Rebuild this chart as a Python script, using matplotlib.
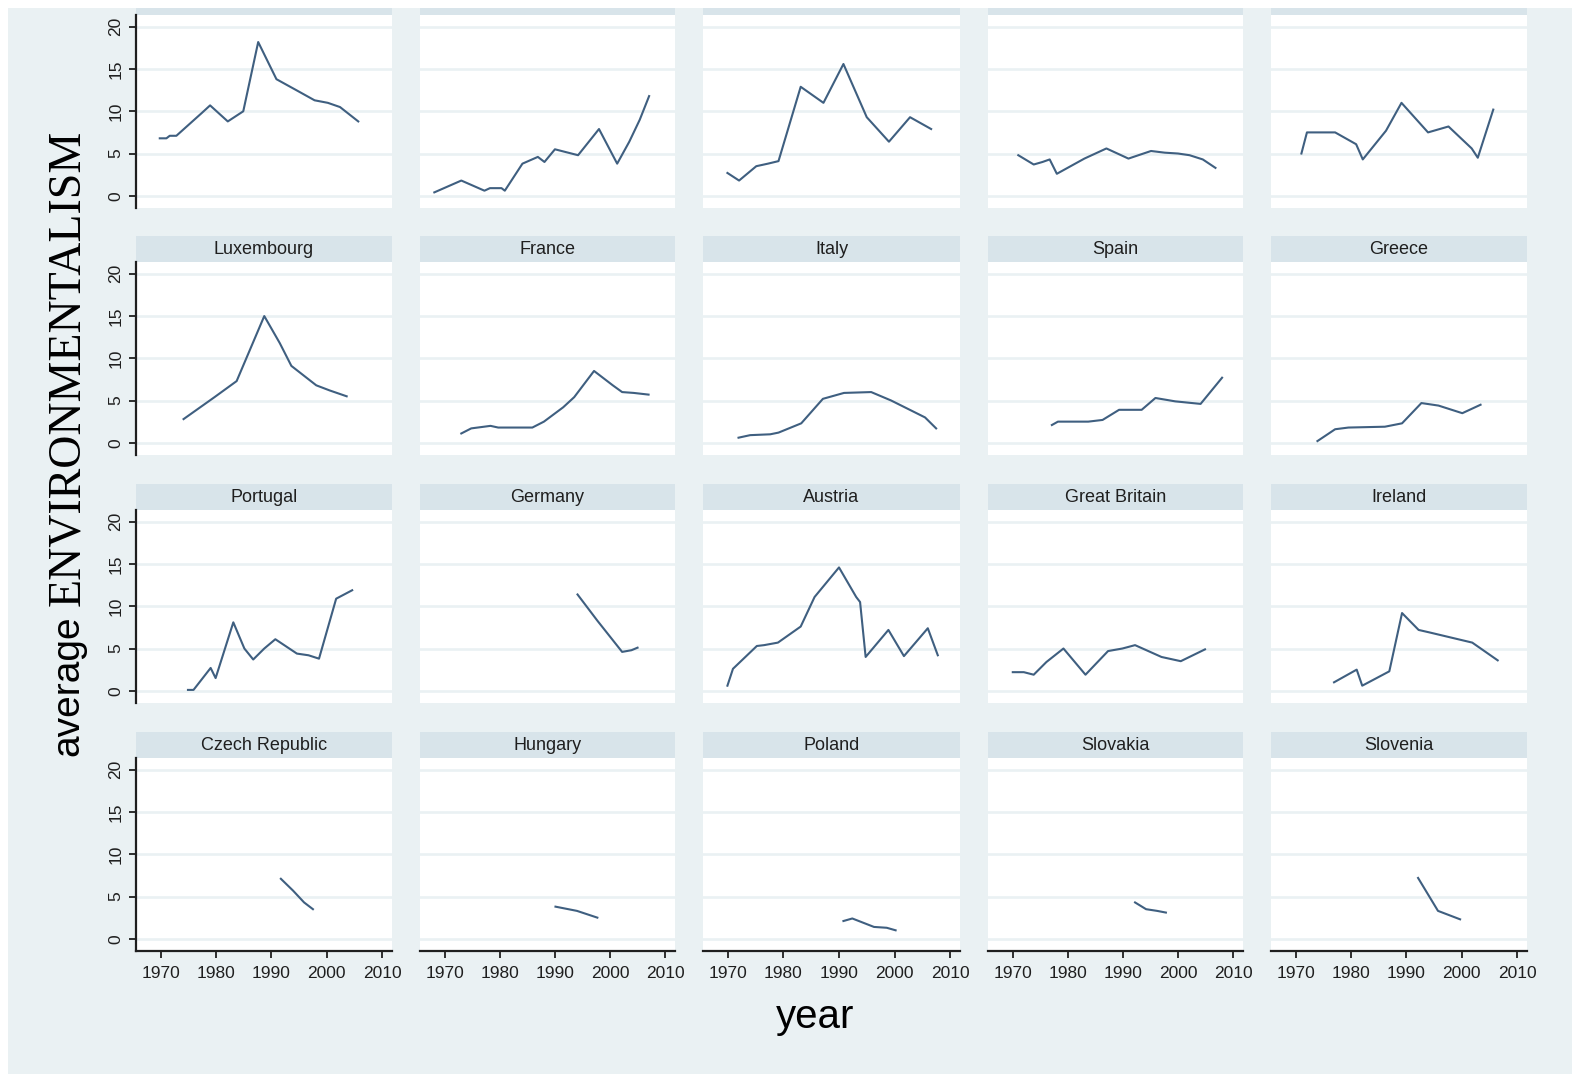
import matplotlib
matplotlib.use("Agg")
import matplotlib.pyplot as plt
from matplotlib.patches import Rectangle

# ---------------- data ----------------
# top row (panel titles cut off in the reference)
p1_years = [1969.8, 1971.0, 1971.6, 1972.8, 1977.4, 1978.9, 1982.1, 1984.9, 1987.6, 1990.9, 1994.5, 1997.8, 2000.2, 2002.4, 2005.7]
p1_vals = [6.8, 6.8, 7.1, 7.1, 9.8, 10.7, 8.8, 10.0, 18.2, 13.8, 12.5, 11.3, 11.0, 10.5, 8.8]
p2_years = [1968.1, 1973.0, 1977.2, 1978.2, 1980.3, 1980.9, 1984.1, 1986.9, 1988.1, 1990.0, 1994.2, 1998.0, 2001.3, 2003.5, 2005.4, 2007.1]
p2_vals = [0.4, 1.8, 0.6, 0.9, 0.9, 0.6, 3.8, 4.6, 4.0, 5.5, 4.8, 7.9, 3.8, 6.4, 9.0, 11.8]
p3_years = [1969.9, 1972.0, 1975.1, 1977.2, 1979.1, 1983.1, 1987.2, 1990.8, 1995.0, 1999.0, 2002.8, 2006.6]
p3_vals = [2.7, 1.8, 3.5, 3.8, 4.1, 12.9, 11.0, 15.6, 9.3, 6.4, 9.3, 7.9]
p4_years = [1971.0, 1973.8, 1975.4, 1976.7, 1978.0, 1983.0, 1987.0, 1991.0, 1995.1, 1997.6, 2000.0, 2002.1, 2004.5, 2006.8]
p4_vals = [4.8, 3.7, 4.0, 4.3, 2.6, 4.4, 5.6, 4.4, 5.3, 5.1, 5.0, 4.8, 4.3, 3.3]
p5_years = [1971.0, 1972.0, 1977.1, 1980.9, 1982.1, 1986.3, 1989.1, 1993.9, 1997.6, 2001.8, 2002.9, 2005.7]
p5_vals = [5.0, 7.5, 7.5, 6.1, 4.3, 7.7, 11.0, 7.5, 8.2, 5.6, 4.5, 10.2]

lux_years = [1974.1, 1979.7, 1983.7, 1988.7, 1991.5, 1993.6, 1998.1, 2000.5, 2003.6]
lux_vals = [2.8, 5.4, 7.3, 15.0, 11.8, 9.1, 6.8, 6.2, 5.5]
fra_years = [1973.0, 1974.8, 1978.3, 1979.7, 1985.9, 1988.0, 1991.5, 1993.5, 1997.1, 2000.5, 2002.2, 2004.3, 2007.0]
fra_vals = [1.1, 1.7, 2.0, 1.8, 1.8, 2.5, 4.2, 5.4, 8.5, 6.8, 6.0, 5.9, 5.7]
ita_years = [1971.9, 1974.0, 1977.6, 1979.1, 1983.2, 1987.1, 1990.9, 1995.8, 1999.4, 2005.5, 2007.5]
ita_vals = [0.6, 0.9, 1.0, 1.2, 2.3, 5.2, 5.9, 6.0, 5.0, 3.0, 1.7]
esp_years = [1977.1, 1978.2, 1983.7, 1986.3, 1989.3, 1993.4, 1995.9, 1999.5, 2004.1, 2008.0]
esp_vals = [2.1, 2.5, 2.5, 2.7, 3.9, 3.9, 5.3, 4.9, 4.6, 7.7]
gre_years = [1973.9, 1977.1, 1979.5, 1986.1, 1989.2, 1992.7, 1995.8, 2000.1, 2003.4]
gre_vals = [0.2, 1.6, 1.8, 1.9, 2.3, 4.7, 4.4, 3.5, 4.5]

por_years = [1974.9, 1975.9, 1979.0, 1979.9, 1983.1, 1985.1, 1986.7, 1988.7, 1990.7, 1994.6, 1996.7, 1998.6, 2001.7, 2004.6]
por_vals = [0.1, 0.1, 2.7, 1.5, 8.1, 5.0, 3.7, 5.0, 6.1, 4.4, 4.2, 3.8, 10.9, 11.9]
ger_years = [1994.1, 1997.7, 2002.2, 2003.9, 2005.0]
ger_vals = [11.4, 8.3, 4.6, 4.8, 5.1]
aut_years = [1969.9, 1970.9, 1975.2, 1976.5, 1979.0, 1983.1, 1985.6, 1990.0, 1993.1, 1993.8, 1994.8, 1998.9, 2001.7, 2006.0, 2007.8]
aut_vals = [0.6, 2.6, 5.3, 5.4, 5.7, 7.6, 11.1, 14.6, 11.1, 10.5, 4.0, 7.2, 4.1, 7.4, 4.2]
gbr_years = [1970.0, 1972.0, 1973.8, 1976.1, 1979.2, 1983.2, 1987.3, 1989.9, 1992.2, 1997.0, 2000.5, 2004.9]
gbr_vals = [2.2, 2.2, 1.9, 3.4, 5.0, 1.9, 4.7, 5.0, 5.4, 4.0, 3.5, 4.9]
irl_years = [1976.9, 1981.0, 1982.0, 1986.9, 1989.2, 1992.2, 1994.2, 2001.9, 2006.5]
irl_vals = [1.0, 2.5, 0.6, 2.3, 9.2, 7.2, 6.9, 5.7, 3.6]

cze_years = [1991.7, 1993.9, 1995.9, 1997.5]
cze_vals = [7.1, 5.7, 4.3, 3.5]
hun_years = [1990.1, 1994.0, 1997.7]
hun_vals = [3.8, 3.3, 2.5]
pol_years = [1990.8, 1992.4, 1996.3, 1998.6, 2000.2]
pol_vals = [2.1, 2.4, 1.4, 1.3, 1.0]
svk_years = [1992.2, 1994.2, 1996.2, 1997.8]
svk_vals = [4.3, 3.5, 3.3, 3.1]
svn_years = [1992.1, 1995.7, 1998.1, 1999.7]
svn_vals = [7.2, 3.3, 2.7, 2.3]

panel_titles = ["", "", "", "", "",
                "Luxembourg", "France", "Italy", "Spain", "Greece",
                "Portugal", "Germany", "Austria", "Great Britain", "Ireland",
                "Czech Republic", "Hungary", "Poland", "Slovakia", "Slovenia"]
panel_series = [(p1_years, p1_vals), (p2_years, p2_vals), (p3_years, p3_vals), (p4_years, p4_vals), (p5_years, p5_vals),
                (lux_years, lux_vals), (fra_years, fra_vals), (ita_years, ita_vals), (esp_years, esp_vals), (gre_years, gre_vals),
                (por_years, por_vals), (ger_years, ger_vals), (aut_years, aut_vals), (gbr_years, gbr_vals), (irl_years, irl_vals),
                (cze_years, cze_vals), (hun_years, hun_vals), (pol_years, pol_vals), (svk_years, svk_vals), (svn_years, svn_vals)]
y_ticks = [0, 5, 10, 15, 20]
x_ticks = [1970, 1980, 1990, 2000, 2010]

# ---------------- layout ----------------
W, H = 1572, 1074
BG = "#eaf1f3"
STRIP = "#d8e4ea"
LINE = "#3f5f80"
INK = "#1f1f1f"

fig = plt.figure(figsize=(W / 100, H / 100), dpi=100, facecolor="white")


def frect(x0, y0, x1, y1):
    return [x0 / W, 1 - y1 / H, (x1 - x0) / W, (y1 - y0) / H]


# background
fig.patches.append(Rectangle((8 / W, 0), 1 - 8 / W, 1 - 8 / H, transform=fig.transFigure,
                             facecolor=BG, edgecolor="none", zorder=-10))

cols = [(136, 392), (420, 675), (703, 960), (988, 1243), (1271, 1527)]
rows = [(15, 208), (262, 455), (510, 703), (758, 951)]
strip_h = 26

for i, ((xs, ys), title) in enumerate(zip(panel_series, panel_titles)):
    r, c = divmod(i, 5)
    x0, x1 = cols[c]
    y0, y1 = rows[r]
    ax = fig.add_axes(frect(x0, y0, x1, y1))
    ax.set_zorder(5)
    ax.set_facecolor("white")
    ax.set_xlim(1965.5, 2011.8)
    ax.set_ylim(-1.45, 21.4)
    for yv in y_ticks:
        ax.axhline(yv, color=BG, lw=1.9, zorder=1)
    ax.plot(xs, ys, color=LINE, lw=1.5, zorder=3)
    for s in ax.spines.values():
        s.set_visible(False)
    ax.set_yticks(y_ticks)
    ax.set_xticks(x_ticks)
    if c == 0:
        ax.spines["left"].set_visible(True)
        ax.spines["left"].set_color(INK)
        ax.spines["left"].set_linewidth(1.6)
        ax.tick_params(axis="y", direction="out", length=5, width=1.3, color=INK, pad=4,
                       labelsize=12.5, labelcolor=INK)
        for lab in ax.get_yticklabels():
            lab.set_rotation(90)
            lab.set_va("center")
            lab.set_family("Liberation Sans")
    else:
        ax.tick_params(axis="y", left=False, labelleft=False)
    if r == 3:
        ax.spines["bottom"].set_visible(True)
        ax.spines["bottom"].set_color(INK)
        ax.spines["bottom"].set_linewidth(1.6)
        ax.tick_params(axis="x", direction="out", length=5, width=1.3, color=INK, pad=6,
                       labelsize=12.5, labelcolor=INK)
        for lab in ax.get_xticklabels():
            lab.set_family("Liberation Sans")
    else:
        ax.tick_params(axis="x", bottom=False, labelbottom=False)

    # header strip
    sy0 = max(y0 - strip_h, 8)
    fig.patches.append(Rectangle((x0 / W, 1 - y0 / H), (x1 - x0) / W, (y0 - sy0) / H,
                                 transform=fig.transFigure, facecolor=STRIP, edgecolor="none", zorder=-5))
    if title:
        fig.text((x0 + x1) / 2 / W, 1 - (y0 - strip_h / 2) / H, title, ha="center", va="center",
                 fontsize=13, color=INK, family="Liberation Sans")

# axis titles
fig.text(68 / W, 1 - 686 / H, "average", rotation=90, ha="center", va="center",
         fontsize=28, color="black", family="Liberation Sans")
fig.text(68 / W, 1 - 368 / H, "ENVIRONMENTALISM", rotation=90, ha="center", va="center",
         fontsize=33, color="black", family="Liberation Serif")
fig.text(815 / W, 1 - 1017 / H, "year", ha="center", va="center",
         fontsize=29, color="black", family="Liberation Sans")

fig.savefig("out.png", dpi=100, facecolor="white")
